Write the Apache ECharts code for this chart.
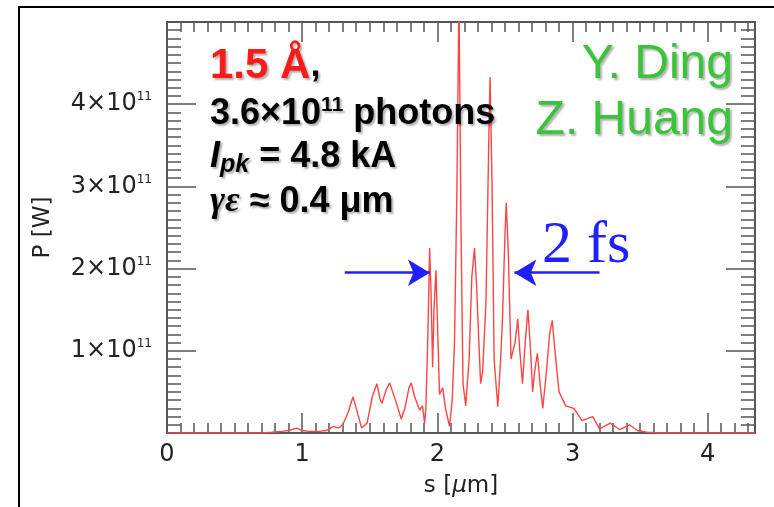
<!DOCTYPE html>
<html>
<head>
<meta charset="utf-8">
<script src="https://cdn.jsdelivr.net/npm/echarts@6/dist/echarts.min.js"></script>
<style>
html, body { margin: 0; padding: 0; background: #fff; }
#main { width: 774px; height: 507px; }
</style>
</head>
<body>
<div id="main"></div>
<script>
// s in micrometres, P in units of 1e11 W
var sVals = [0.00, 0.70, 0.78, 0.85, 0.90, 0.96, 1.00, 1.05, 1.12, 1.18, 1.23, 1.27, 1.30, 1.34, 1.376, 1.40, 1.44, 1.48, 1.52, 1.553,
	1.575, 1.59, 1.62, 1.647, 1.69, 1.733, 1.76, 1.79, 1.807, 1.83, 1.869, 1.89, 1.906, 1.915, 1.93, 1.943, 1.955, 1.965, 1.975, 1.99,
	2.00, 2.016, 2.04, 2.06, 2.09, 2.11, 2.127, 2.145, 2.16, 2.175, 2.19, 2.21, 2.235, 2.255, 2.275, 2.29, 2.32, 2.335, 2.36, 2.38,
	2.39, 2.405, 2.42, 2.447, 2.465, 2.48, 2.50, 2.51, 2.525, 2.545, 2.56, 2.575, 2.595, 2.61, 2.63, 2.65, 2.67, 2.69, 2.705, 2.72,
	2.74, 2.76, 2.78, 2.81, 2.83, 2.85, 2.87, 2.90, 2.95, 3.01, 3.07, 3.15, 3.20, 3.28, 3.35, 3.42, 3.48, 3.55, 3.65, 4.35];
var pVals = [0.00, 0.00, 0.01, 0.02, 0.03, 0.06, 0.03, 0.02, 0.02, 0.03, 0.08, 0.06, 0.10, 0.25, 0.44, 0.30, 0.06, 0.12, 0.45, 0.60,
	0.42, 0.36, 0.52, 0.61, 0.40, 0.17, 0.30, 0.55, 0.61, 0.45, 0.28, 0.33, 0.12, 0.30, 1.20, 2.25, 1.60, 0.80, 1.50, 1.98,
	1.40, 0.47, 0.55, 0.30, 0.08, 0.40, 1.10, 3.00, 5.30, 2.50, 0.60, 0.33, 0.90, 1.90, 2.25, 1.80, 0.60, 0.75, 1.60, 3.50,
	4.33, 3.00, 0.90, 0.32, 0.80, 1.30, 2.40, 2.80, 2.20, 0.90, 1.00, 1.10, 1.39, 1.00, 0.60, 1.10, 1.50, 1.00, 0.50, 0.75,
	0.97, 0.60, 0.30, 0.80, 1.20, 1.37, 1.00, 0.50, 0.33, 0.30, 0.15, 0.20, 0.05, 0.12, 0.04, 0.10, 0.03, 0.01, 0.00, 0.00];
var xTickLabels = [0, 1, 2, 3, 4];
var yTickLabels = [1, 2, 3, 4];
// 2 fs arrows: [start s, tip s] at P level
var arrowLeft = [1.315, 1.945];
var arrowRight = [3.20, 2.57];
var arrowP = 1.95;

var seriesData = [];
for (var i = 0; i < sVals.length; i++) {
	seriesData.push([sVals[i], pVals[i]]);
}

var axisColor = '#555';
var tickFont = 'DejaVu Sans, sans-serif';
var textFont = 'Liberation Sans, Arial, sans-serif';
var serifFont = 'Liberation Serif, Times New Roman, serif';
var gridBox = { left: 167, right: 19, top: 22, bottom: 74 };

function xAxisOpt(gridIndex, position, interval, tickLen, withLabels) {
	return {
		type: 'value', gridIndex: gridIndex, position: position,
		min: 0, max: 4.35, interval: interval,
		axisLine: { show: withLabels !== null, onZero: false, lineStyle: { color: axisColor, width: 2 } },
		axisTick: { show: true, inside: true, length: tickLen, lineStyle: { color: axisColor, width: 1.5 } },
		axisLabel: withLabels ? {
			show: true, margin: 10, fontSize: 24, color: '#222', fontFamily: tickFont,
			formatter: function (v) { return xTickLabels.indexOf(v) >= 0 ? String(v) : ''; }
		} : { show: false },
		splitLine: { show: false }
	};
}

function yAxisOpt(gridIndex, position, interval, tickLen, withLabels) {
	return {
		type: 'value', gridIndex: gridIndex, position: position,
		min: 0, max: 5, interval: interval,
		axisLine: { show: withLabels !== null, onZero: false, lineStyle: { color: axisColor, width: 2 } },
		axisTick: { show: true, inside: true, length: tickLen, lineStyle: { color: axisColor, width: 1.5 } },
		axisLabel: withLabels ? {
			show: true, margin: 15, color: '#222', fontFamily: tickFont,
			formatter: function (v) { return yTickLabels.indexOf(v) >= 0 ? '{m|' + v + '×10}{s|11}' : ''; },
			rich: {
				m: { fontSize: 24, fontFamily: tickFont, color: '#222', lineHeight: 26 },
				s: { fontSize: 12, fontFamily: tickFont, color: '#222', verticalAlign: 'top', lineHeight: 26 }
			}
		} : { show: false },
		splitLine: { show: false }
	};
}

var xMain = xAxisOpt(0, 'bottom', 1, 20, true);
xMain.name = 's [{i|μ}m]';
xMain.nameLocation = 'middle';
xMain.nameGap = 42;
xMain.nameTextStyle = {
	fontSize: 23, color: '#222', fontFamily: tickFont,
	rich: { i: { fontSize: 23, fontStyle: 'italic', fontFamily: tickFont, color: '#222' } }
};
var yMain = yAxisOpt(0, 'left', 1, 29, true);
yMain.name = 'P [W]';
yMain.nameLocation = 'middle';
yMain.nameGap = 112;
yMain.nameTextStyle = { fontSize: 23, color: '#222', fontFamily: tickFont };

var shadow = { textShadowColor: 'rgba(0,0,0,0.3)', textShadowBlur: 2, textShadowOffsetX: 2, textShadowOffsetY: 2 };
function txt(x, y, text, rich, align) {
	return {
		type: 'text', x: x, y: y, silent: true, z: 100,
		style: Object.assign({
			text: text, rich: rich, align: align || 'left', verticalAlign: 'middle'
		}, shadow)
	};
}
var boldBlack = { fontSize: 36, fontWeight: 'bold', fill: '#000', fontFamily: textFont };
var green = { fontSize: 48, fill: '#3ac43a', fontFamily: textFont };

var option = {
	animation: false,
	backgroundColor: '#fff',
	grid: [
		Object.assign({}, gridBox),
		Object.assign({}, gridBox)
	],
	xAxis: [
		xMain,
		xAxisOpt(0, 'top', 1, 20, false),
		xAxisOpt(1, 'bottom', 0.1, 10, null),
		xAxisOpt(1, 'top', 0.1, 10, null)
	],
	yAxis: [
		yMain,
		yAxisOpt(0, 'right', 1, 29, false),
		yAxisOpt(1, 'left', 0.1, 14, null),
		yAxisOpt(1, 'right', 0.1, 14, null)
	],
	series: [{
		type: 'line',
		xAxisIndex: 0,
		yAxisIndex: 0,
		data: seriesData,
		showSymbol: false,
		clip: true,
		lineStyle: { color: '#ff4444', width: 1.4 },
		markLine: {
			silent: true,
			symbol: ['none', 'arrow'],
			symbolSize: [20, 22],
			label: { show: false },
			lineStyle: { color: '#1f1fff', width: 2.5, type: 'solid' },
			data: [
				[{ coord: [arrowLeft[0], arrowP] }, { coord: [arrowLeft[1], arrowP] }],
				[{ coord: [arrowRight[0], arrowP] }, { coord: [arrowRight[1], arrowP] }]
			]
		}
	}],
	graphic: [
		{
			type: 'rect', silent: true, z: -1,
			shape: { x: 19, y: 7, width: 800, height: 600 },
			style: { fill: null, stroke: '#000', lineWidth: 2 }
		},
		txt(210, 66, '{r|1.5 Å}{b|,}', {
			r: { fontSize: 42, fontWeight: 'bold', fill: '#ff1a1a', fontFamily: textFont },
			b: boldBlack
		}),
		txt(210, 114, '{b|3.6×10}{sup|11}{b| photons}', {
			b: boldBlack,
			sup: { fontSize: 21, fontWeight: 'bold', fill: '#000', fontFamily: textFont, verticalAlign: 'top', lineHeight: 38 }
		}),
		txt(210, 157, '{i|I}{sub|pk}{b| = 4.8 kA}', {
			i: { fontSize: 36, fontWeight: 'bold', fontStyle: 'italic', fill: '#000', fontFamily: textFont, lineHeight: 42 },
			sub: { fontSize: 25, fontWeight: 'bold', fontStyle: 'italic', fill: '#000', fontFamily: textFont, verticalAlign: 'bottom', lineHeight: 42 },
			b: Object.assign({ lineHeight: 42 }, boldBlack)
		}),
		txt(210, 202, '{g|γε}{b| ≈ 0.4 μm}', {
			g: { fontSize: 36, fontStyle: 'italic', fontWeight: 'bold', fill: '#000', fontFamily: serifFont },
			b: boldBlack
		}),
		txt(733, 65, '{g|Y. Ding}', { g: green }, 'right'),
		txt(733, 121, '{g|Z. Huang}', { g: green }, 'right'),
		{
			type: 'text', x: 542, y: 246, silent: true, z: 100,
			style: {
				text: '2 fs', fontSize: 60, fill: '#1f1fff', verticalAlign: 'middle',
				fontFamily: serifFont
			}
		}
	]
};

var chart = echarts.init(document.getElementById('main'));
chart.setOption(option);
</script>
</body>
</html>
